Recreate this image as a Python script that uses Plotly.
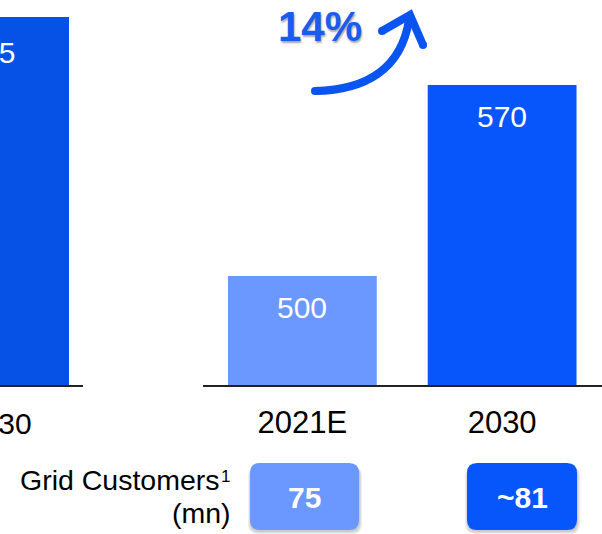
import plotly.graph_objects as go

# ---- data -------------------------------------------------------------
left_years = ["2030"]
left_values = [95]

right_years = ["2021E", "2030"]
right_values = [500, 570]

growth_label = "14%"

customer_title = "Grid Customers"
customer_note = "1"
customer_unit = "(mn)"
customer_labels = ["75", "~81"]

# ---- styling ----------------------------------------------------------
W, H = 602, 534
FONT = "Arial, Liberation Sans, sans-serif"
LIGHT = "#6A98FF"
DARK = "#0756FC"
LEFT_DARK = "#0652E6"
ARROW = "#0A55F2"


def X(px):
    return px / W


def Y(py):
    return 1 - py / H


def rounded_rect(x0, y0, x1, y1, r):
    """SVG path of a rounded rectangle, pixel inputs -> paper coords."""
    pts = [
        f"M {X(x0 + r)} {Y(y0)}",
        f"L {X(x1 - r)} {Y(y0)}",
        f"Q {X(x1)} {Y(y0)} {X(x1)} {Y(y0 + r)}",
        f"L {X(x1)} {Y(y1 - r)}",
        f"Q {X(x1)} {Y(y1)} {X(x1 - r)} {Y(y1)}",
        f"L {X(x0 + r)} {Y(y1)}",
        f"Q {X(x0)} {Y(y1)} {X(x0)} {Y(y1 - r)}",
        f"L {X(x0)} {Y(y0 + r)}",
        f"Q {X(x0)} {Y(y0)} {X(x0 + r)} {Y(y0)}",
        "Z",
    ]
    return " ".join(pts)


fig = go.Figure()

fig.add_trace(go.Bar(
    x=left_years, y=left_values, xaxis="x", yaxis="y",
    marker=dict(color=LEFT_DARK, line=dict(width=0)),
    width=0.71, hoverinfo="skip",
))
fig.add_trace(go.Bar(
    x=right_years, y=right_values, xaxis="x2", yaxis="y2",
    marker=dict(color=[LIGHT, DARK], line=dict(width=0)),
    width=0.745, hoverinfo="skip",
))

base_px = 385          # baseline of both panels
px_per_unit = 200      # category spacing
left_center_px = -2    # left panel's last category sits just past the page edge

annotations = []

# left panel: its category centre lies outside the visible x range,
# so its labels are placed horizontally in paper space
for yr, v in zip(left_years, left_values):
    annotations.append(dict(
        xref="paper", yref="y", x=X(left_center_px), y=v, yshift=-35,
        xanchor="center", text=f"{v}", showarrow=False,
        font=dict(family=FONT, size=30, color="white"),
    ))
    annotations.append(dict(
        xref="paper", yref="paper", x=X(left_center_px), y=Y(423),
        xanchor="center", yanchor="middle", text=yr, showarrow=False,
        font=dict(family=FONT, size=30, color="black"),
    ))

# right panel value labels (category axes are addressed by index)
for i, v in enumerate(right_values):
    annotations.append(dict(
        xref="x2", yref="y2", x=i, y=v, yshift=-31, text=f"{v}",
        showarrow=False, font=dict(family=FONT, size=30, color="white"),
    ))

# growth callout
annotations.append(dict(
    xref="paper", yref="paper", x=X(320), y=Y(26), xanchor="center", yanchor="middle",
    text=f"<b>{growth_label}</b>", showarrow=False,
    font=dict(family=FONT, size=42, color="#1A5BF0",
              shadow="1px 2px 2px rgba(0,0,0,0.35)"),
))

# customers row
annotations.append(dict(
    xref="paper", yref="paper", x=X(222), y=Y(480), xanchor="right", yanchor="middle",
    text=customer_title, showarrow=False,
    font=dict(family=FONT, size=28.5, color="black"),
))
annotations.append(dict(
    xref="paper", yref="paper", x=X(219), y=Y(465), xanchor="left", yanchor="top",
    text=customer_note, showarrow=False,
    font=dict(family=FONT, size=17, color="black"),
))
annotations.append(dict(
    xref="paper", yref="paper", x=X(233), y=Y(513), xanchor="right", yanchor="middle",
    text=customer_unit, showarrow=False,
    font=dict(family=FONT, size=28.5, color="black"),
))

boxes = [(250, 463, 359, 530), (467, 463, 577, 530)]
box_colors = [LIGHT, DARK]
shapes = []
for (x0, y0, x1, y1), col, lab in zip(boxes, box_colors, customer_labels):
    for k in (4, 3, 2):
        shapes.append(dict(
            type="path", xref="paper", yref="paper",
            path=rounded_rect(x0 - k + 2, y0 + k, x1 + k - 1, y1 + k, 10),
            fillcolor="rgba(0,0,0,0.07)", line=dict(width=0), layer="below",
        ))
    shapes.append(dict(
        type="path", xref="paper", yref="paper",
        path=rounded_rect(x0, y0, x1, y1, 10),
        fillcolor=col, line=dict(width=0),
    ))
    annotations.append(dict(
        xref="paper", yref="paper", x=X((x0 + x1) / 2), y=Y(497),
        xanchor="center", yanchor="middle", text=f"<b>{lab}</b>", showarrow=False,
        font=dict(family=FONT, size=30, color="white"),
    ))

# curved growth arrow
shapes.append(dict(
    type="path", xref="paper", yref="paper",
    path=(f"M {X(315)} {Y(91)} C {X(365)} {Y(90)} {X(401)} {Y(70)} {X(409)} {Y(20)}"),
    line=dict(color=ARROW, width=8),
))
shapes.append(dict(
    type="path", xref="paper", yref="paper",
    path=f"M {X(382)} {Y(31)} L {X(410)} {Y(15)} L {X(423)} {Y(45)}",
    line=dict(color=ARROW, width=8),
))
for cx, cy in [(315, 91), (382, 31), (423, 45)]:
    shapes.append(dict(
        type="circle", xref="paper", yref="paper",
        x0=X(cx - 4), x1=X(cx + 4), y0=Y(cy + 4), y1=Y(cy - 4),
        fillcolor=ARROW, line=dict(width=0),
    ))

left_top = left_values[0] * base_px / (base_px - 17)
right_unit = (276 - 85) / (right_values[1] - right_values[0])
right_bottom = right_values[0] - (base_px - 276) / right_unit
right_top = right_bottom + base_px / right_unit

off = -left_center_px / px_per_unit
fig.update_layout(
    width=W, height=H,
    margin=dict(l=0, r=0, t=0, b=0, autoexpand=False),
    paper_bgcolor="white", plot_bgcolor="white",
    showlegend=False, hovermode=False,
    font=dict(family=FONT),
    xaxis=dict(
        domain=[0, X(83)], type="category", range=[off, off + 83 / px_per_unit],
        showline=True, linecolor="#222", linewidth=2, ticks="",
        showticklabels=False, showgrid=False, zeroline=False, anchor="y",
        fixedrange=True,
    ),
    yaxis=dict(
        domain=[Y(base_px), 1], range=[0, left_top], visible=False, anchor="x",
        fixedrange=True,
    ),
    xaxis2=dict(
        domain=[X(202.5), 1], type="category", range=[-0.5, 1.5],
        showline=True, linecolor="#222", linewidth=2, ticks="",
        tickfont=dict(family=FONT, size=31, color="black"),
        ticklabelstandoff=9,
        showgrid=False, zeroline=False, anchor="y2", fixedrange=True,
    ),
    yaxis2=dict(
        domain=[Y(base_px), 1], range=[right_bottom, right_top], visible=False,
        anchor="x2", fixedrange=True,
    ),
    annotations=annotations,
    shapes=shapes,
)

fig.write_html("out.html")
